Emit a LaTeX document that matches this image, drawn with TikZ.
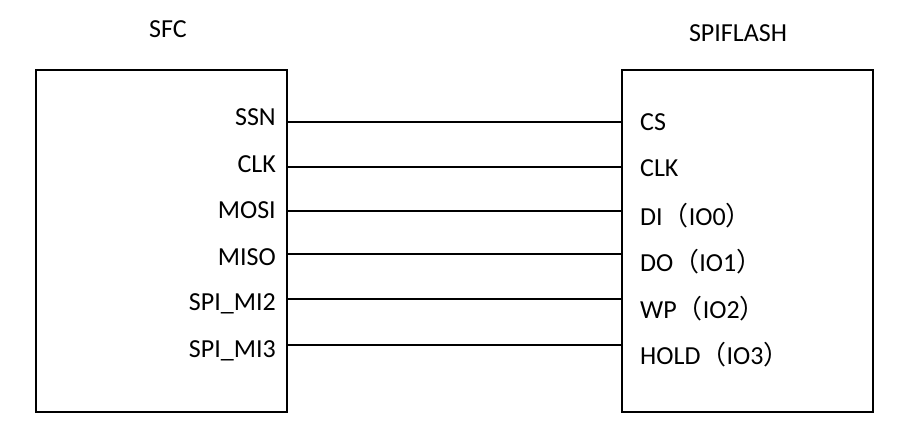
\documentclass[tikz,border=0pt]{standalone}
\usepackage{fontspec}
\setmainfont{Carlito}
\newfontfamily\cjkfont{Noto Sans CJK SC}
\newcommand{\lp}{{\cjkfont （}}
\newcommand{\rp}{{\cjkfont ）}}
\begin{document}
\begin{tikzpicture}[x=1pt,y=-1pt,
  every node/.style={font=\fontsize{26}{31}\selectfont, inner sep=0pt},
  chip/.style={draw, line width=1.6pt, minimum width=251pt, minimum height=342pt, anchor=north west},
  wire/.style={line width=1.3pt},
  lpin/.style={anchor=east},
  rpin/.style={anchor=west}]
\useasboundingbox (0,0) rectangle (908,444);
\fill[white] (0,0) rectangle (908,444);
\node[chip] (sfc) at (35,69) {};
\node[chip] (flash) at (621,69) {};
\node (sfct) at (168,29) {SFC};
\node (flt) at (738,33) {SPIFLASH};
\foreach \i/\y/\ly/\ry/\ln/\rn in {1/122/117.5/122/SSN/CS, 2/167/164/168/CLK/CLK, 3/211/210/216/MOSI/DI\lp IO0\rp, 4/254/257.5/262/MISO/DO\lp IO1\rp, 5/299/304/309/SPI\_MI2/WP\lp IO2\rp, 6/345/351/355/SPI\_MI3/HOLD\lp IO3\rp}{
  \coordinate (a\i) at (sfc.east |- 0,\y);
  \coordinate (b\i) at (flash.west |- 0,\y);
  \node[lpin] (ln\i) at (276,\ly) {\ln};
  \node[rpin] (rn\i) at (640,\ry) {\rn};
  \draw[wire] (a\i) -- (b\i);
}
\end{tikzpicture}
\end{document}
